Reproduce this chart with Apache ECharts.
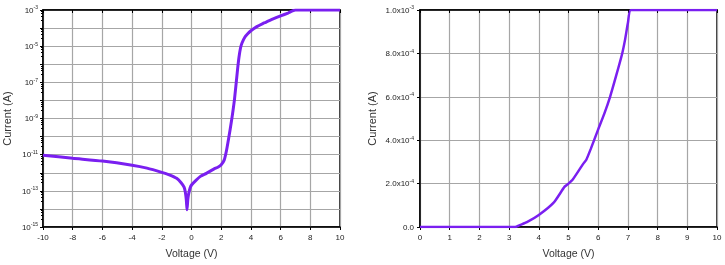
<!DOCTYPE html>
<html><head><meta charset="utf-8">
<script src="https://cdn.jsdelivr.net/npm/echarts@6/dist/echarts.min.js"></script>
<style>html,body{margin:0;padding:0;background:#fff}#c{width:725px;height:265px}</style>
</head><body><div id="c"></div>
<script>
// Left panel: log-scale I-V curve
const logVoltage = [-10, -8, -6, -4, -3, -2, -1.5, -1, -0.7, -0.5, -0.42, -0.35, -0.3, -0.25, -0.2, -0.1, 0, 0.3, 0.6, 1.0, 1.5, 1.8, 2.0, 2.2, 2.35, 2.5, 2.7, 2.9, 3.1, 3.2, 3.3, 3.4, 3.6, 3.8, 4.0, 4.4, 4.8, 5.0, 5.5, 6.0, 6.5, 7.0, 8.0, 10.0];
const logCurrent = [9.3e-12, 6.3e-12, 4.4e-12, 2.6e-12, 1.8e-12, 1.05e-12, 7.6e-13, 4.9e-13, 2.8e-13, 1.6e-13, 8.9e-14, 3.2e-14, 0.9e-14, 3.2e-14, 6.3e-14, 1.4e-13, 2.1e-13, 3.8e-13, 6.3e-13, 9.3e-13, 1.6e-12, 2.1e-12, 2.8e-12, 5.0e-12, 1.6e-11, 7.9e-11, 7.9e-10, 1.26e-8, 5.0e-7, 2.5e-6, 7.9e-6, 1.5e-5, 3.2e-5, 5.0e-5, 7.1e-5, 1.2e-4, 1.78e-4, 2.1e-4, 3.2e-4, 4.7e-4, 6.8e-4, 1.0e-3, 1.0e-3, 1.0e-3];
// Right panel: linear-scale I-V curve
const linVoltage = [0, 1, 2, 3, 3.2, 3.36, 3.6, 4.0, 4.5, 4.87, 5.0, 5.15, 5.5, 5.6, 5.75, 6.0, 6.2, 6.4, 6.6, 6.8, 6.9, 7.0, 7.1, 8, 9, 10];
const linCurrent = [0, 0, 0, 0, 0, 0.9e-5, 2.2e-5, 5.5e-5, 1.12e-4, 1.86e-4, 2.0e-4, 2.2e-4, 2.92e-4, 3.1e-4, 3.6e-4, 4.5e-4, 5.2e-4, 6.0e-4, 6.95e-4, 7.95e-4, 8.6e-4, 9.4e-4, 1.0e-3, 1.0e-3, 1.0e-3, 1.0e-3];
// Axis settings
const leftXTicks = { min: -10, max: 10, interval: 2 };
const leftYTicks = { min: 1e-15, max: 1e-3 };
const rightXTicks = { min: 0, max: 10, interval: 1 };
const rightYTicks = { min: 0, max: 1e-3, interval: 2e-4 };
const axisTitleX = 'Voltage (V)';
const axisTitleY = 'Current (A)';

const FONT = 'Liberation Sans, Arial, sans-serif';
const LINE = '#7a1ff0';
const GRIDC = '#a6a6a6';
const TXT = '#222';

const chart = echarts.init(document.getElementById('c'), null, {renderer: 'canvas'});

function labelStyle(extra) {
  return Object.assign({ fontFamily: FONT, fontSize: 8, color: TXT }, extra || {});
}
const richSup = {
  b: { fontFamily: FONT, fontSize: 8, color: TXT, lineHeight: 9, verticalAlign: 'bottom' },
  s: { fontFamily: FONT, fontSize: 5, color: TXT, lineHeight: 9, verticalAlign: 'top' }
};
const axisLineBlack = { show: true, onZero: false, lineStyle: { color: '#000', width: 1.5 } };
const nameStyle = { fontFamily: FONT, fontSize: 10.5, color: '#333' };

chart.setOption({
  animation: false,
  backgroundColor: '#fff',
  grid: [
    { left: 43, right: 385, top: 10, bottom: 36, show: true, borderColor: '#000', borderWidth: 1.5, backgroundColor: 'transparent' },
    { left: 420, right: 8, top: 10, bottom: 36, show: true, borderColor: '#000', borderWidth: 1.5, backgroundColor: 'transparent' }
  ],
  xAxis: [
    { gridIndex: 0, type: 'value', min: leftXTicks.min, max: leftXTicks.max, interval: leftXTicks.interval,
      axisLine: axisLineBlack, axisTick: { show: true, length: 3, lineStyle: { color: '#000' } },
      axisLabel: labelStyle({ margin: 7 }),
      splitLine: { show: true, lineStyle: { color: GRIDC, width: 1.2 } },
      name: axisTitleX, nameLocation: 'middle', nameGap: 22, nameTextStyle: nameStyle },
    { gridIndex: 0, type: 'value', position: 'top', min: leftXTicks.min, max: leftXTicks.max, interval: leftXTicks.interval,
      axisLine: axisLineBlack, axisTick: { show: true, inside: true, length: 3, lineStyle: { color: '#000' } },
      axisLabel: { show: false }, splitLine: { show: false } },
    { gridIndex: 1, type: 'value', min: rightXTicks.min, max: rightXTicks.max, interval: rightXTicks.interval,
      axisLine: axisLineBlack, axisTick: { show: true, length: 3, lineStyle: { color: '#000' } },
      axisLabel: labelStyle({ margin: 7 }),
      splitLine: { show: true, lineStyle: { color: GRIDC, width: 1.2 } },
      name: axisTitleX, nameLocation: 'middle', nameGap: 22, nameTextStyle: nameStyle },
    { gridIndex: 1, type: 'value', position: 'top', min: rightXTicks.min, max: rightXTicks.max, interval: rightXTicks.interval,
      axisLine: axisLineBlack, axisTick: { show: true, inside: true, length: 3, lineStyle: { color: '#000' } },
      axisLabel: { show: false }, splitLine: { show: false } }
  ],
  yAxis: [
    { gridIndex: 0, type: 'log', logBase: 10, min: leftYTicks.min, max: leftYTicks.max, interval: 1,
      axisLine: axisLineBlack, axisTick: { show: true, length: 3, lineStyle: { color: '#000' } },
      minorTick: { show: true, splitNumber: 5, length: 2, lineStyle: { color: '#000' } },
      axisLabel: { margin: 5, rich: richSup, formatter: function (v) {
        const e = Math.round(Math.log10(v));
        if (Math.abs(e) % 2 !== 1) return '';
        return '{b|10}{s|' + e + '}';
      } },
      splitLine: { show: true, lineStyle: { color: GRIDC, width: 1.2 } },
      name: axisTitleY, nameLocation: 'middle', nameGap: 30, nameTextStyle: Object.assign({}, nameStyle, { fontSize: 11 }) },
    { gridIndex: 1, type: 'value', min: rightYTicks.min, max: rightYTicks.max, interval: rightYTicks.interval,
      axisLine: axisLineBlack, axisTick: { show: true, length: 3, lineStyle: { color: '#000' } },
      axisLabel: { margin: 6, rich: richSup, formatter: function (v) {
        if (Math.abs(v) < 1e-12) return '{b|0.0}';
        const e = Math.floor(Math.log10(Math.abs(v)) + 1e-9);
        const m = v / Math.pow(10, e);
        return '{b|' + m.toFixed(1) + 'x10}{s|' + e + '}';
      } },
      splitLine: { show: true, lineStyle: { color: GRIDC, width: 1.2 } },
      name: axisTitleY, nameLocation: 'middle', nameGap: 42, nameTextStyle: Object.assign({}, nameStyle, { fontSize: 11 }) }
  ],
  series: [
    { type: 'line', xAxisIndex: 0, yAxisIndex: 0, showSymbol: false, smooth: 0.2,
      lineStyle: { color: LINE, width: 3 },
      data: logVoltage.map((v, i) => [v, logCurrent[i]]) },
    { type: 'line', xAxisIndex: 2, yAxisIndex: 1, showSymbol: false, smooth: 0.2,
      lineStyle: { color: LINE, width: 2.5 },
      data: linVoltage.map((v, i) => [v, linCurrent[i]]) }
  ]
});
</script>
</body></html>
